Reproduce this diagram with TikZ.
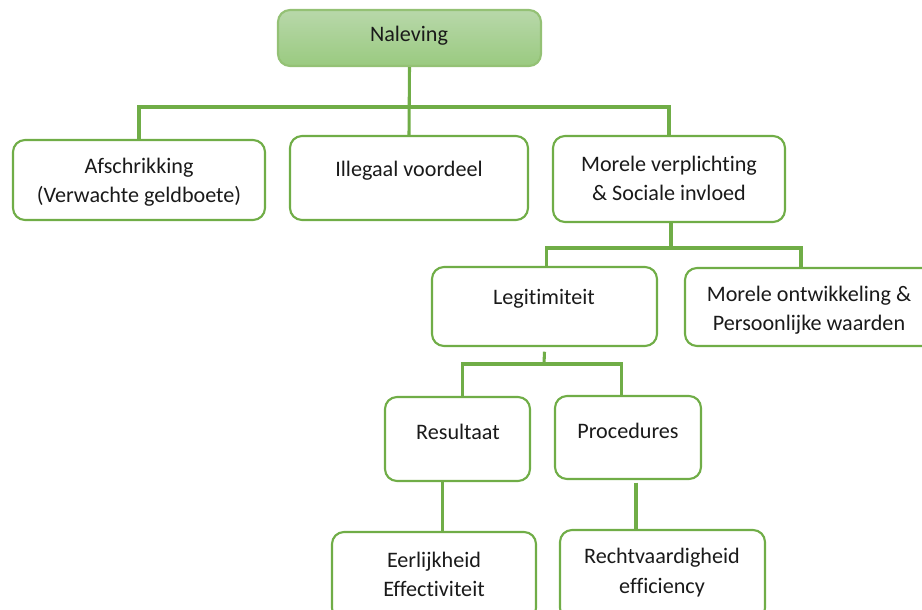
\documentclass[tikz,border=0pt]{standalone}
\usepackage{fontspec}
\setmainfont[Ligatures=NoCommon]{Carlito}
\definecolor{leaf}{HTML}{70AD47}
\definecolor{leaftop}{HTML}{B8D8AA}
\definecolor{leafbot}{HTML}{9ACA80}
\definecolor{ink}{HTML}{1A1A1A}

\begin{document}
\begin{tikzpicture}[
  x=0.75pt, y=-0.75pt,
  box/.style={draw=leaf, line width=1.6pt, rounded corners=9pt, fill=white, inner sep=0pt},
  topbox/.style={box, draw=leaf!75, top color=leaftop, bottom color=leafbot},
  txt/.style={align=center, text=ink, font=\fontsize{16.6}{22}\selectfont},
  link/.style={draw=leaf, line width=2.3pt}
]
\useasboundingbox (0,0) rectangle (922,610);

% boxes
\node[topbox, minimum width=197.25pt, minimum height=42pt] (nal) at (409.5,38) {};
\node[box, minimum width=189pt,    minimum height=60pt]   (afs) at (139,180) {};
\node[box, minimum width=178.5pt,  minimum height=63pt]   (ill) at (409,178) {};
\node[box, minimum width=174pt,    minimum height=64.5pt] (mor) at (669,179) {};
\node[box, minimum width=168.75pt, minimum height=59.25pt] (leg) at (544.5,306.5) {};
\node[box, minimum width=187.5pt,  minimum height=58.5pt] (ont) at (810,307) {};
\node[box, minimum width=108.75pt, minimum height=63pt]   (res) at (457.5,439) {};
\node[box, minimum width=109.5pt,  minimum height=62.25pt] (pro) at (628,437.5) {};
\node[box, minimum width=153pt,    minimum height=66pt]   (eer) at (434,576) {};
\node[box, minimum width=153.75pt, minimum height=67.5pt] (rec) at (662.5,575) {};

% texts
\node[txt] (nal-t) at (409,36)  {Naleving};
\node[txt] (afs-t) at (139,182.5) {Afschrikking\\(Verwachte geldboete)};
\node[txt] (ill-t) at (409,171) {Illegaal voordeel};
\node[txt] (mor-t) at (669,178.5) {Morele verplichting\\\& Sociale invloed};
\node[txt] (leg-t) at (544,299) {Legitimiteit};
\node[txt] (ont-t) at (809,310.5) {Morele ontwikkeling \&\\Persoonlijke waarden};
\node[txt] (res-t) at (458,432) {Resultaat};
\node[txt] (pro-t) at (628,431) {Procedures};
\node[txt] (eer-t) at (434,574.5) {Eerlijkheid\\Effectiviteit};
\node[txt] (rec-t) at (662,572.5) {Rechtvaardigheid\\efficiency};

% connectors
\coordinate (j1) at (409,107);
\coordinate (j2) at (671,248);
\coordinate (j3) at (544,364);
\draw[link] (nal.south) -- (ill.north);
\draw[link] (afs.north) |- (j1) -| (mor.north);
\draw[link] (mor.south -| j2) -- (j2);
\draw[link] ([xshift=1.5pt]leg.north) |- (j2) -| ([xshift=-6.75pt]ont.north);
\draw[link] ([yshift=-3.5pt]leg.south) -- (j3);
\draw[link] ([xshift=3.4pt]res.north) |- (j3) -| ([xshift=-5.2pt]pro.north);
\draw[link] ([xshift=-11.6pt]res.south) -- ([xshift=-11.6pt]res.south |- eer.north);
\draw[link] ([xshift=6pt,yshift=-2pt]pro.south) -- ([xshift=6pt]pro.south |- rec.north);
\end{tikzpicture}
\end{document}
